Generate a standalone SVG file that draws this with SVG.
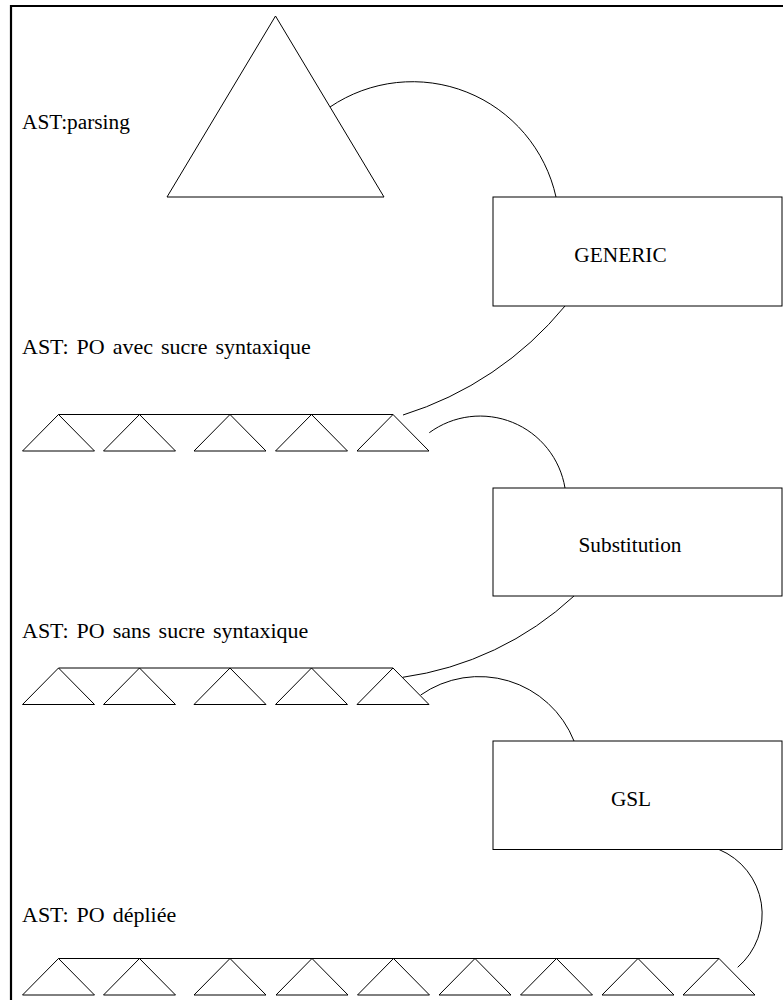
<svg xmlns="http://www.w3.org/2000/svg" width="783" height="1000" viewBox="0 0 783 1000">
<style>
  .shape { fill: none; stroke: #000; stroke-width: 1; }
  .box { fill: #fff; stroke: #000; stroke-width: 1; }
  .edge { fill: none; stroke: #000; stroke-width: 1; }
  .lbl { font-family: "Liberation Serif", "Times New Roman", serif; font-size: 21.3px; fill: #000; }
  .row { font-size: 22px; word-spacing: 2.5px; }
  .mid { text-anchor: middle; }
</style>
<defs>
  <path id="tri" d="M0,0 L36,36.5 L-36,36.5 Z" class="shape"/>
</defs>
<rect width="783" height="1000" fill="#fff"/>
<g id="frame">
  <path d="M11,1000 L11,6 L783,6" fill="none" stroke="#000" stroke-width="2.2"/>
</g>

<g id="ast-parsing">
  <text class="lbl" x="22" y="129">AST:parsing</text>
  <path class="shape" d="M275.5,16 L384,197 L167,197 Z"/>
</g>

<g id="generic">
  <rect class="box" x="493" y="197" width="289" height="109"/>
  <text class="lbl mid" x="620.5" y="261.5">GENERIC</text>
</g>

<g id="ast-po-avec">
  <text class="lbl row" x="22" y="354">AST: PO avec sucre syntaxique</text>
  <line class="shape" x1="58.5" y1="414.5" x2="393" y2="414.5"/>
  <use href="#tri" x="58.5" y="414.5"/>
  <use href="#tri" x="139.5" y="414.5"/>
  <use href="#tri" x="230" y="414.5"/>
  <use href="#tri" x="311.5" y="414.5"/>
  <use href="#tri" x="393" y="414.5"/>
</g>

<g id="substitution">
  <rect class="box" x="493" y="488" width="289" height="108"/>
  <text class="lbl mid" x="630" y="552">Substitution</text>
</g>

<g id="ast-po-sans">
  <text class="lbl row" x="22" y="638">AST: PO sans sucre syntaxique</text>
  <line class="shape" x1="58.5" y1="668" x2="393" y2="668"/>
  <use href="#tri" x="58.5" y="668"/>
  <use href="#tri" x="139.5" y="668"/>
  <use href="#tri" x="230" y="668"/>
  <use href="#tri" x="311.5" y="668"/>
  <use href="#tri" x="393" y="668"/>
</g>

<g id="gsl">
  <rect class="box" x="493" y="741" width="289" height="108.5"/>
  <text class="lbl mid" x="631" y="806">GSL</text>
</g>

<g id="ast-po-depliee">
  <text class="lbl row" x="22" y="922">AST: PO dépliée</text>
  <line class="shape" x1="58.5" y1="958.5" x2="719" y2="958.5"/>
  <use href="#tri" x="58.5" y="958.5"/>
  <use href="#tri" x="139.5" y="958.5"/>
  <use href="#tri" x="230" y="958.5"/>
  <use href="#tri" x="312" y="958.5"/>
  <use href="#tri" x="393.5" y="958.5"/>
  <use href="#tri" x="475" y="958.5"/>
  <use href="#tri" x="556.5" y="958.5"/>
  <use href="#tri" x="638" y="958.5"/>
  <use href="#tri" x="719" y="958.5"/>
</g>

<g id="connectors">
  <path class="edge" d="M330,107 A147,147 0 0 1 556,197"/>
  <path class="edge" d="M565,306 A340,340 0 0 1 403,415"/>
  <path class="edge" d="M429.3,432.7 A86,86 0 0 1 565,488"/>
  <path class="edge" d="M574,596 A316,316 0 0 1 402.7,677.3"/>
  <path class="edge" d="M420.7,695 A102,102 0 0 1 574,741"/>
  <path class="edge" d="M719,849.5 A70,70 0 0 1 737.7,967.3"/>
</g>
</svg>
